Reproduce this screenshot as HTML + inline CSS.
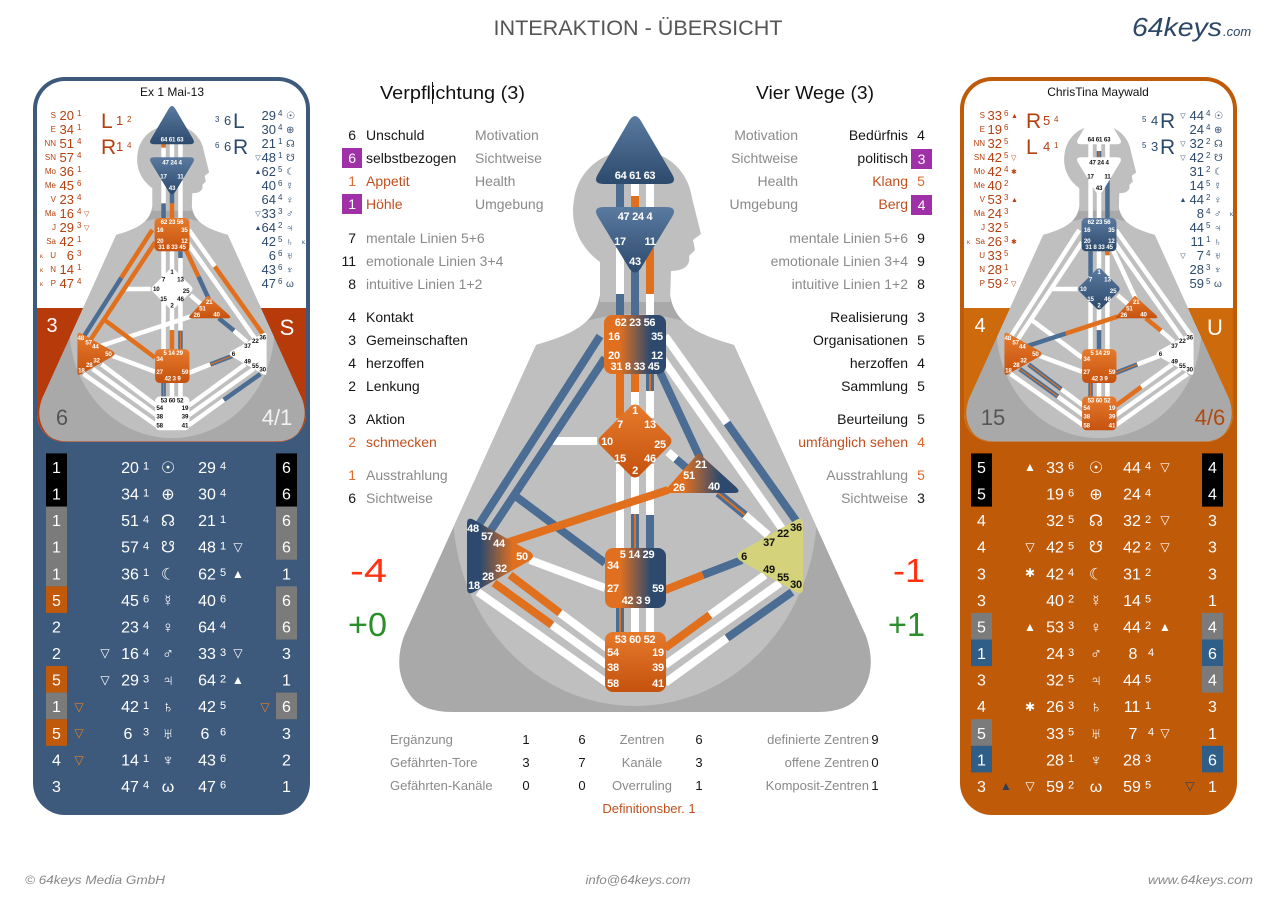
<!DOCTYPE html>
<html><head><meta charset="utf-8">
<style>
html,body{margin:0;padding:0;background:#fff;}
svg{display:block;}
text{font-family:"Liberation Sans","DejaVu Sans",sans-serif;}
.dj{font-family:"DejaVu Sans","Liberation Sans",sans-serif;}
.lb text{font-size:11px;font-weight:bold;text-anchor:middle;letter-spacing:-0.3px;}
.c14{font-size:14px;}
.g{fill:#8a8a8a;} .k{fill:#151515;} .o{fill:#c0501e;} .on{fill:#dc6a2a;} .w{fill:#fff;}
.m{text-anchor:middle;} .e{text-anchor:end;}
</style></head><body>
<svg width="1280" height="901" viewBox="0 0 1280 901" xmlns="http://www.w3.org/2000/svg">
<defs>
 <linearGradient id="gB" x1="0" y1="0" x2="0" y2="1"><stop offset="0" stop-color="#5a7aa0"/><stop offset="1" stop-color="#2c4a6c"/></linearGradient>
 <linearGradient id="gO" x1="0" y1="0" x2="0" y2="1"><stop offset="0" stop-color="#e67a2c"/><stop offset="1" stop-color="#c5520e"/></linearGradient>
 <linearGradient id="gOB" x1="0" y1="0" x2="1" y2="0"><stop offset="0.25" stop-color="#e07020"/><stop offset="0.75" stop-color="#2d4a6e"/></linearGradient>
 <linearGradient id="gBO" x1="0" y1="0" x2="1" y2="0"><stop offset="0.2" stop-color="#2d4a6e"/><stop offset="0.7" stop-color="#e07020"/></linearGradient>
 <path id="trapP" d="M600,295 C595,325 570,335 536,345 L404,636 Q392,670 410,695 Q422,712 452,712 L818,712 Q848,712 860,695 Q878,670 866,636 L734,345 C700,335 675,325 670,295 Z"/>
 <clipPath id="cTrap"><path d="M600,295 C595,325 570,335 536,345 L404,636 Q392,670 410,695 Q422,712 452,712 L818,712 Q848,712 860,695 Q878,670 866,636 L734,345 C700,335 675,325 670,295 Z"/></clipPath>
 <path id="headP" d="M600,302 L600,262 C578,246 570,222 574,200 C578,170 603,150 635,150 C666,150 688,170 692,198 L701,234 L693,240 L695,250 L689,256 C691,266 683,271 671,271 L670,302 Z"/>
 <clipPath id="cL"><rect x="37" y="81" width="269" height="361" rx="28"/></clipPath>
 <clipPath id="cR"><rect x="964" y="81" width="269" height="361" rx="28"/></clipPath>
 <path id="hd" d="M629,121 Q635,111 641,121 L672,174 Q678,184 666,184 L604,184 Q592,184 598,174 Z"/>
 <path id="aj" d="M604,207 L666,207 Q678,207 672,217 L641,268 Q635,277 629,268 L598,217 Q592,207 604,207 Z"/>
 <rect id="th" x="604" y="315" width="62" height="59" rx="8"/>
 <path id="gc" d="M629,408 Q635,401 641,408 L668,435 Q675,441 668,447 L641,474 Q635,481 629,474 L602,447 Q595,441 602,435 Z"/>
 <path id="eg" d="M695,457 Q699,450 703,457 L736,487 Q742,493 734,493 L670,493 Q662,493 668,487 Z"/>
 <path id="sp" d="M467,524 Q467,516 474,520 L529,551 Q537,556 529,561 L474,592 Q467,596 467,588 Z"/>
 <rect id="sc" x="605" y="548" width="61" height="60" rx="8"/>
 <rect id="rt" x="605" y="632" width="61" height="60" rx="8"/>
 <path id="so" d="M803,524 Q803,516 796,520 L741,551 Q733,556 741,561 L796,592 Q803,596 803,588 Z"/>
</defs>

<!-- Header -->
<text x="638" y="35" font-size="21" fill="#555" text-anchor="middle" textLength="289" lengthAdjust="spacingAndGlyphs">INTERAKTION - ÜBERSICHT</text>
<text x="1132" y="36" font-size="26" font-style="italic" fill="#2d4766" textLength="90" lengthAdjust="spacingAndGlyphs">64keys</text>
<text x="1223" y="36" font-size="13" font-style="italic" fill="#2d4766">.com</text>

<!-- ================= CENTER CHART ================= -->
<g>
 <use href="#trapP" fill="#a9a9a9"/>
 <ellipse cx="635" cy="510" rx="182" ry="196" fill="#bfbfbf" clip-path="url(#cTrap)"/>
 <use href="#headP" fill="#bfbfbf"/>
 <g fill="none" stroke-width="8">
  <path stroke="#fff" d="M635,183V196 M650,183V208 M620,248V294 M650,294V315 M635,392V405 M650,391V418 M620,464V548 M635,477V514 M650,464V515 M635,608V632 M650,608V632 M553,441H597 M530,560L605,588 M560,613L607,648 M552,625L607,665 M478,592L607,683 M710,615L765,575 M665,665L780,583 M665,683L727,638 M668,452L676,459 M745,515L768,535 M665,336L727,423 M662,358L783,530"/>
  <path stroke="#4c6d93" d="M620,183V208 M620,294V315 M635,270V315 M650,374V391 M635,514V548 M650,515V548 M620,608V632 M600,336L478,526 M605,358L491,530 M514,495L605,563 M703,575L742,560 M727,638L792,592 M660,372L700,458 M676,459L690,471 M718,493L745,515 M727,423L797,522"/>
  <path stroke="#e0701e" d="M635,196V208 M650,248V294 M620,374V418 M635,374V392 M500,545L668,490 M510,575L560,613 M494,583L552,625 M665,590L703,575 M665,648L710,615"/>
  <path stroke="#e0701e" stroke-width="2" d="M650,374V391 M635,514V548 M620,608V632 M718,493L745,515"/>
 </g>
 <use href="#hd" fill="url(#gB)"/>
 <use href="#aj" fill="url(#gB)"/>
 <use href="#th" fill="url(#gOB)"/>
 <use href="#gc" fill="url(#gO)"/>
 <use href="#eg" fill="url(#gOB)"/>
 <use href="#sp" fill="url(#gBO)"/>
 <use href="#sc" fill="url(#gOB)"/>
 <use href="#rt" fill="url(#gO)"/>
 <use href="#so" fill="#d4d27a"/>
 <g class="lb" fill="#fff">
  <text x="635" y="179">64 61 63</text>
  <text x="635" y="220">47 24 4</text><text x="620" y="245">17</text><text x="650" y="245">11</text><text x="635" y="265">43</text>
  <text x="635" y="326">62 23 56</text><text x="614" y="340">16</text><text x="657" y="340">35</text><text x="614" y="359">20</text><text x="657" y="359">12</text><text x="635" y="370">31 8 33 45</text>
  <text x="635" y="414">1</text><text x="620" y="428">7</text><text x="650" y="428">13</text><text x="607" y="445">10</text><text x="660" y="448">25</text><text x="620" y="462">15</text><text x="650" y="462">46</text><text x="635" y="474">2</text>
  <text x="701" y="468">21</text><text x="689" y="479">51</text><text x="679" y="491">26</text><text x="714" y="490">40</text>
  <text x="473" y="532">48</text><text x="487" y="540">57</text><text x="499" y="547">44</text><text x="522" y="560">50</text><text x="501" y="572">32</text><text x="488" y="580">28</text><text x="474" y="589">18</text>
  <text x="637" y="558">5 14 29</text><text x="613" y="569">34</text><text x="613" y="592">27</text><text x="658" y="592">59</text><text x="636" y="604">42 3 9</text>
  <text x="635" y="643">53 60 52</text><text x="613" y="656">54</text><text x="658" y="656">19</text><text x="613" y="671">38</text><text x="658" y="671">39</text><text x="613" y="687">58</text><text x="658" y="687">41</text>
 </g>
 <g class="lb" fill="#111">
  <text x="796" y="531">36</text><text x="783" y="537">22</text><text x="769" y="546">37</text><text x="744" y="560">6</text><text x="769" y="573">49</text><text x="783" y="581">55</text><text x="796" y="588">30</text>
 </g>
</g>

<!-- ================= CENTER TEXT ================= -->
<text x="380" y="99" font-size="18" fill="#111" textLength="145" lengthAdjust="spacingAndGlyphs">Verpflichtung (3)</text>
<line x1="432.5" y1="82" x2="432.5" y2="104" stroke="#111" stroke-width="1"/>
<text x="756" y="99" font-size="18" fill="#111" textLength="118" lengthAdjust="spacingAndGlyphs">Vier Wege (3)</text>

<rect x="342" y="148" width="20" height="20" fill="#a030a8"/>
<rect x="342" y="194" width="20" height="20" fill="#a030a8"/>
<rect x="911" y="149" width="21" height="20" fill="#a030a8"/>
<rect x="911" y="195" width="21" height="20" fill="#a030a8"/>

<g class="c14">
 <text x="356" y="140" class="e k">6</text><text x="366" y="140" class="k">Unschuld</text><text x="475" y="140" class="g">Motivation</text>
 <text x="356" y="163" class="e w">6</text><text x="366" y="163" class="k">selbstbezogen</text><text x="475" y="163" class="g">Sichtweise</text>
 <text x="356" y="186" class="e on">1</text><text x="366" y="186" class="o">Appetit</text><text x="475" y="186" class="g">Health</text>
 <text x="356" y="209" class="e w">1</text><text x="366" y="209" class="o">Höhle</text><text x="475" y="209" class="g">Umgebung</text>
 <text x="356" y="243" class="e k">7</text><text x="366" y="243" class="g">mentale Linien 5+6</text>
 <text x="356" y="266" class="e k">11</text><text x="366" y="266" class="g">emotionale Linien 3+4</text>
 <text x="356" y="289" class="e k">8</text><text x="366" y="289" class="g">intuitive Linien 1+2</text>
 <text x="356" y="322" class="e k">4</text><text x="366" y="322" class="k">Kontakt</text>
 <text x="356" y="345" class="e k">3</text><text x="366" y="345" class="k">Gemeinschaften</text>
 <text x="356" y="368" class="e k">4</text><text x="366" y="368" class="k">herzoffen</text>
 <text x="356" y="391" class="e k">2</text><text x="366" y="391" class="k">Lenkung</text>
 <text x="356" y="424" class="e k">3</text><text x="366" y="424" class="k">Aktion</text>
 <text x="356" y="447" class="e on">2</text><text x="366" y="447" class="o">schmecken</text>
 <text x="356" y="480" class="e on">1</text><text x="366" y="480" class="g">Ausstrahlung</text>
 <text x="356" y="503" class="e k">6</text><text x="366" y="503" class="g">Sichtweise</text>

 <text x="798" y="140" class="e g">Motivation</text><text x="908" y="140" class="e k">Bedürfnis</text><text x="921" y="140" class="m k">4</text>
 <text x="798" y="163" class="e g">Sichtweise</text><text x="908" y="163" class="e k">politisch</text><text x="921.5" y="164" class="m w">3</text>
 <text x="798" y="186" class="e g">Health</text><text x="908" y="186" class="e o">Klang</text><text x="921" y="186" class="m on">5</text>
 <text x="798" y="209" class="e g">Umgebung</text><text x="908" y="209" class="e o">Berg</text><text x="921.5" y="210" class="m w">4</text>
 <text x="908" y="243" class="e g">mentale Linien 5+6</text><text x="921" y="243" class="m k">9</text>
 <text x="908" y="266" class="e g">emotionale Linien 3+4</text><text x="921" y="266" class="m k">9</text>
 <text x="908" y="289" class="e g">intuitive Linien 1+2</text><text x="921" y="289" class="m k">8</text>
 <text x="908" y="322" class="e k">Realisierung</text><text x="921" y="322" class="m k">3</text>
 <text x="908" y="345" class="e k">Organisationen</text><text x="921" y="345" class="m k">5</text>
 <text x="908" y="368" class="e k">herzoffen</text><text x="921" y="368" class="m k">4</text>
 <text x="908" y="391" class="e k">Sammlung</text><text x="921" y="391" class="m k">5</text>
 <text x="908" y="424" class="e k">Beurteilung</text><text x="921" y="424" class="m k">5</text>
 <text x="908" y="447" class="e o">umfänglich sehen</text><text x="921" y="447" class="m on">4</text>
 <text x="908" y="480" class="e g">Ausstrahlung</text><text x="921" y="480" class="m on">5</text>
 <text x="908" y="503" class="e g">Sichtweise</text><text x="921" y="503" class="m k">3</text>
</g>

<text x="387" y="582" font-size="33" fill="#ff3311" text-anchor="end" textLength="37" lengthAdjust="spacingAndGlyphs">-4</text>
<text x="387" y="636" font-size="33" fill="#2a8f2a" text-anchor="end" textLength="39" lengthAdjust="spacingAndGlyphs">+0</text>
<text x="925" y="582" font-size="33" fill="#ff3311" text-anchor="end" textLength="32" lengthAdjust="spacingAndGlyphs">-1</text>
<text x="925" y="636" font-size="33" fill="#2a8f2a" text-anchor="end" textLength="37" lengthAdjust="spacingAndGlyphs">+1</text>

<g font-size="13">
 <text x="390" y="744" class="g">Ergänzung</text><text x="526" y="744" class="m k">1</text><text x="582" y="744" class="m k">6</text><text x="642" y="744" class="m g">Zentren</text><text x="699" y="744" class="m k">6</text><text x="869" y="744" class="e g">definierte Zentren</text><text x="875" y="744" class="m k">9</text>
 <text x="390" y="767" class="g">Gefährten-Tore</text><text x="526" y="767" class="m k">3</text><text x="582" y="767" class="m k">7</text><text x="642" y="767" class="m g">Kanäle</text><text x="699" y="767" class="m k">3</text><text x="869" y="767" class="e g">offene Zentren</text><text x="875" y="767" class="m k">0</text>
 <text x="390" y="790" class="g">Gefährten-Kanäle</text><text x="526" y="790" class="m k">0</text><text x="582" y="790" class="m k">0</text><text x="642" y="790" class="m g">Overruling</text><text x="699" y="790" class="m k">1</text><text x="869" y="790" class="e g">Komposit-Zentren</text><text x="875" y="790" class="m k">1</text>
 <text x="649" y="813" class="m o">Definitionsber. 1</text>
</g>

<!-- Footer -->
<g font-size="12" font-style="italic" fill="#888">
 <text x="25" y="884" textLength="140" lengthAdjust="spacingAndGlyphs">© 64keys Media GmbH</text>
 <text x="638" y="884" text-anchor="middle" textLength="105" lengthAdjust="spacingAndGlyphs">info@64keys.com</text>
 <text x="1253" y="884" text-anchor="end" textLength="105" lengthAdjust="spacingAndGlyphs">www.64keys.com</text>
</g>

<!-- ================= LEFT CARD ================= -->
<rect x="33" y="77" width="277" height="738" rx="32" fill="#3d5a7c"/>
<g clip-path="url(#cL)">
 <rect x="37" y="81" width="269" height="361" fill="#fff"/>
 <rect x="37" y="308" width="269" height="134" fill="#b73a0b"/>
 <g transform="translate(-185.5,40.7) scale(0.563)">
  <use href="#trapP" fill="#a9a9a9"/>
  <ellipse cx="635" cy="510" rx="182" ry="196" fill="#bfbfbf" clip-path="url(#cTrap)"/>
  <use href="#headP" fill="#bfbfbf"/>
  <g fill="none" stroke-width="8">
   <path stroke="#fff" d="M620,190V208 M635,183V208 M650,183V208 M620,248V289 M650,248V315 M620,374V418 M635,374V405 M650,386V418 M620,464V548 M635,477V514 M650,464V515 M635,608V632 M650,608V632 M553,441H597 M500,545L668,490 M530,560L605,588 M510,575L607,648 M494,583L607,665 M478,592L607,683 M665,590L703,575 M665,648L765,575 M665,665L780,583 M665,683L727,638 M668,452L690,471 M745,515L768,535 M665,336L711,401 M662,358L783,530"/>
   <path stroke="#4c6d93" d="M620,289V315 M635,270V289 M650,374V386 M650,515V548 M620,608V632 M545,421L478,526 M700,458L682,419 M718,493L745,515 M703,575L742,560 M727,638L792,592"/>
   <path stroke="#e0701e" d="M620,183V190 M635,289V315 M635,514V548 M600,336L545,421 M605,358L491,530 M514,495L605,563 M660,372L682,419 M711,401L797,522"/>
   <path stroke="#e0701e" stroke-width="2" d="M650,515V548 M620,608V632 M703,575L742,560"/>
  </g>
  <use href="#hd" fill="url(#gB)"/>
  <use href="#aj" fill="url(#gB)"/>
  <use href="#th" fill="url(#gO)"/>
  <use href="#gc" fill="#fff"/>
  <use href="#eg" fill="url(#gO)"/>
  <use href="#sp" fill="url(#gO)"/>
  <use href="#sc" fill="url(#gO)"/>
  <use href="#rt" fill="#fff"/>
  <use href="#so" fill="#fff"/>
  <g class="lb" fill="#fff">
   <text x="635" y="179">64 61 63</text>
   <text x="635" y="220">47 24 4</text><text x="620" y="245">17</text><text x="650" y="245">11</text><text x="635" y="265">43</text>
   <text x="635" y="326">62 23 56</text><text x="614" y="340">16</text><text x="657" y="340">35</text><text x="614" y="359">20</text><text x="657" y="359">12</text><text x="635" y="370">31 8 33 45</text>
   <text x="701" y="468">21</text><text x="689" y="479">51</text><text x="679" y="491">26</text><text x="714" y="490">40</text>
   <text x="473" y="532">48</text><text x="487" y="540">57</text><text x="499" y="547">44</text><text x="522" y="560">50</text><text x="501" y="572">32</text><text x="488" y="580">28</text><text x="474" y="589">18</text>
   <text x="637" y="558">5 14 29</text><text x="613" y="569">34</text><text x="613" y="592">27</text><text x="658" y="592">59</text><text x="636" y="604">42 3 9</text>
  </g>
  <g class="lb" fill="#111">
   <text x="635" y="414">1</text><text x="620" y="428">7</text><text x="650" y="428">13</text><text x="607" y="445">10</text><text x="660" y="448">25</text><text x="620" y="462">15</text><text x="650" y="462">46</text><text x="635" y="474">2</text>
   <text x="635" y="643">53 60 52</text><text x="613" y="656">54</text><text x="658" y="656">19</text><text x="613" y="671">38</text><text x="658" y="671">39</text><text x="613" y="687">58</text><text x="658" y="687">41</text>
   <text x="796" y="531">36</text><text x="783" y="537">22</text><text x="769" y="546">37</text><text x="744" y="560">6</text><text x="769" y="573">49</text><text x="783" y="581">55</text><text x="796" y="588">30</text>
  </g>
 </g>
</g>
<text x="172" y="96" font-size="12" fill="#111" text-anchor="middle">Ex 1 Mai-13</text>
<text x="52" y="332" font-size="20" fill="#fff" text-anchor="middle">3</text>
<text x="287" y="335" font-size="22" fill="#fff" text-anchor="middle">S</text>
<text x="62" y="425" font-size="22" fill="#555" text-anchor="middle">6</text>
<text x="277" y="425" font-size="22" fill="#f2f2f2" text-anchor="middle">4/1</text>

<!-- left card planet lists -->
<g fill="#b5400f">
 <text x="101" y="128" font-size="21">L</text><text x="116" y="125" font-size="13">1</text><text x="127" y="122" font-size="8">2</text>
 <text x="101" y="154" font-size="21">R</text><text x="116" y="151" font-size="13">1</text><text x="127" y="148" font-size="8">4</text>
 <g font-size="8" text-anchor="end">
  <text x="56" y="118">S</text><text x="56" y="132">E</text><text x="56" y="146">NN</text><text x="56" y="160">SN</text><text x="56" y="174">Mo</text><text x="56" y="188">Me</text><text x="56" y="202">V</text><text x="56" y="216">Ma</text><text x="56" y="230">J</text><text x="56" y="244">Sa</text><text x="56" y="258">U</text><text x="56" y="272">N</text><text x="56" y="286">P</text>
 </g>
 <g font-size="13" text-anchor="end">
  <text x="74" y="120">20</text><text x="74" y="134">34</text><text x="74" y="148">51</text><text x="74" y="162">57</text><text x="74" y="176">36</text><text x="74" y="190">45</text><text x="74" y="204">23</text><text x="74" y="218">16</text><text x="74" y="232">29</text><text x="74" y="246">42</text><text x="74" y="260">6</text><text x="74" y="274">14</text><text x="74" y="288">47</text>
 </g>
 <g font-size="8">
  <text x="77" y="116">1</text><text x="77" y="130">1</text><text x="77" y="144">4</text><text x="77" y="158">4</text><text x="77" y="172">1</text><text x="77" y="186">6</text><text x="77" y="200">4</text><text x="77" y="214">4</text><text x="77" y="228">3</text><text x="77" y="242">1</text><text x="77" y="256">3</text><text x="77" y="270">1</text><text x="77" y="284">4</text>
  <text x="84" y="216" class="dj" font-size="7">▽</text><text x="84" y="230" class="dj" font-size="7">▽</text>
  <text x="40" y="258" font-size="6">κ</text><text x="40" y="272" font-size="6">κ</text><text x="40" y="286" font-size="6">κ</text>
 </g>
</g>
<g fill="#2c4a6c">
 <text x="215" y="122" font-size="8">3</text><text x="224" y="125" font-size="13">6</text><text x="233" y="128" font-size="21">L</text>
 <text x="215" y="148" font-size="8">6</text><text x="224" y="151" font-size="13">6</text><text x="233" y="154" font-size="21">R</text>
 <g font-size="13" text-anchor="end">
  <text x="276" y="120">29</text><text x="276" y="134">30</text><text x="276" y="148">21</text><text x="276" y="162">48</text><text x="276" y="176">62</text><text x="276" y="190">40</text><text x="276" y="204">64</text><text x="276" y="218">33</text><text x="276" y="232">64</text><text x="276" y="246">42</text><text x="276" y="260">6</text><text x="276" y="274">43</text><text x="276" y="288">47</text>
 </g>
 <g font-size="8">
  <text x="278" y="116">4</text><text x="278" y="130">4</text><text x="278" y="144">1</text><text x="278" y="158">1</text><text x="278" y="172">5</text><text x="278" y="186">6</text><text x="278" y="200">4</text><text x="278" y="214">3</text><text x="278" y="228">2</text><text x="278" y="242">5</text><text x="278" y="256">6</text><text x="278" y="270">6</text><text x="278" y="284">6</text>
  <text x="302" y="244" font-size="6">κ</text>
 </g>
 <g class="dj" font-size="7" text-anchor="middle">
  <text x="258" y="160">▽</text><text x="258" y="174">▲</text><text x="258" y="216">▽</text><text x="258" y="230">▲</text>
 </g>
 <g class="dj" font-size="10">
  <text x="286" y="119">☉</text><text x="286" y="133">⊕</text><text x="286" y="147">☊</text><text x="286" y="161">☋</text><text x="286" y="175">☾</text><text x="286" y="189">☿</text><text x="286" y="203">♀</text><text x="286" y="217">♂</text><text x="286" y="231">♃</text><text x="286" y="245">♄</text><text x="286" y="259">♅</text><text x="286" y="273">♆</text><text x="286" y="287">ω</text>
 </g>
</g>

<!-- left card table -->
<g>
 <rect x="46" y="453.4" width="21" height="53.2" fill="#000"/>
 <rect x="46" y="506.6" width="21" height="79.7" fill="#7b7b7b"/>
 <rect x="46" y="586.3" width="21" height="26.6" fill="#c05a0a"/>
 <rect x="46" y="666" width="21" height="26.6" fill="#c05a0a"/>
 <rect x="46" y="692.6" width="21" height="26.6" fill="#7b7b7b"/>
 <rect x="46" y="719.2" width="21" height="26.6" fill="#c05a0a"/>
 <rect x="276" y="453.4" width="21" height="53.2" fill="#000"/>
 <rect x="276" y="506.6" width="21" height="53.1" fill="#7b7b7b"/>
 <rect x="276" y="586.3" width="21" height="53.2" fill="#7b7b7b"/>
 <rect x="276" y="692.6" width="21" height="26.6" fill="#7b7b7b"/>
</g>
<g class="dj" font-size="16" fill="#fff" text-anchor="middle">
 <text x="56.5" y="473">1</text><text x="56.5" y="499.6">1</text><text x="56.5" y="526.2">1</text><text x="56.5" y="552.7">1</text><text x="56.5" y="579.3">1</text><text x="56.5" y="605.9">5</text><text x="56.5" y="632.5">2</text><text x="56.5" y="659.1">2</text><text x="56.5" y="685.6">5</text><text x="56.5" y="712.2">1</text><text x="56.5" y="738.8">5</text><text x="56.5" y="765.4">4</text><text x="56.5" y="792">3</text>
 <text x="286.5" y="473">6</text><text x="286.5" y="499.6">6</text><text x="286.5" y="526.2">6</text><text x="286.5" y="552.7">6</text><text x="286.5" y="579.3">1</text><text x="286.5" y="605.9">6</text><text x="286.5" y="632.5">6</text><text x="286.5" y="659.1">3</text><text x="286.5" y="685.6">1</text><text x="286.5" y="712.2">6</text><text x="286.5" y="738.8">3</text><text x="286.5" y="765.4">2</text><text x="286.5" y="792">1</text>
 <text x="130" y="473">20</text><text x="130" y="499.6">34</text><text x="130" y="526.2">51</text><text x="130" y="552.7">57</text><text x="130" y="579.3">36</text><text x="130" y="605.9">45</text><text x="130" y="632.5">23</text><text x="130" y="659.1">16</text><text x="130" y="685.6">29</text><text x="130" y="712.2">42</text><text x="128" y="738.8">6</text><text x="130" y="765.4">14</text><text x="130" y="792">47</text>
 <text x="207" y="473">29</text><text x="207" y="499.6">30</text><text x="207" y="526.2">21</text><text x="207" y="552.7">48</text><text x="207" y="579.3">62</text><text x="207" y="605.9">40</text><text x="207" y="632.5">64</text><text x="207" y="659.1">33</text><text x="207" y="685.6">64</text><text x="207" y="712.2">42</text><text x="205" y="738.8">6</text><text x="207" y="765.4">43</text><text x="207" y="792">47</text>
 <text x="168" y="473">☉</text><text x="168" y="499.6">⊕</text><text x="168" y="526.2">☊</text><text x="168" y="552.7">☋</text><text x="168" y="579.3">☾</text><text x="168" y="605.9">☿</text><text x="168" y="632.5">♀</text><text x="168" y="659.1">♂</text><text x="168" y="685.6">♃</text><text x="168" y="712.2">♄</text><text x="168" y="738.8">♅</text><text x="168" y="765.4">♆</text><text x="168" y="792">ω</text>
</g>
<g class="dj" font-size="11" fill="#fff">
 <text x="143" y="469.7">1</text><text x="143" y="496.3">1</text><text x="143" y="522.9">4</text><text x="143" y="549.4">4</text><text x="143" y="576">1</text><text x="143" y="602.6">6</text><text x="143" y="629.2">4</text><text x="143" y="655.8">4</text><text x="143" y="682.3">3</text><text x="143" y="708.9">1</text><text x="143" y="735.5">3</text><text x="143" y="762.1">1</text><text x="143" y="788.7">4</text>
 <text x="220" y="469.7">4</text><text x="220" y="496.3">4</text><text x="220" y="522.9">1</text><text x="220" y="549.4">1</text><text x="220" y="576">5</text><text x="220" y="602.6">6</text><text x="220" y="629.2">4</text><text x="220" y="655.8">3</text><text x="220" y="682.3">2</text><text x="220" y="708.9">5</text><text x="220" y="735.5">6</text><text x="220" y="762.1">6</text><text x="220" y="788.7">6</text>
</g>
<g class="dj" font-size="12" text-anchor="middle">
 <text x="238" y="551" fill="#fff">▽</text><text x="238" y="578" fill="#fff">▲</text>
 <text x="105" y="657" fill="#fff">▽</text><text x="238" y="657" fill="#fff">▽</text>
 <text x="105" y="684" fill="#fff">▽</text><text x="238" y="684" fill="#fff">▲</text>
 <text x="79" y="711" fill="#e8801e">▽</text><text x="265" y="711" fill="#e8801e">▽</text>
 <text x="79" y="737" fill="#e8801e">▽</text>
 <text x="79" y="764" fill="#e8801e">▽</text>
</g>

<!-- ================= RIGHT CARD ================= -->
<rect x="960" y="77" width="277" height="738" rx="32" fill="#bf5a08"/>
<g clip-path="url(#cR)">
 <rect x="964" y="81" width="269" height="361" fill="#fff"/>
 <rect x="964" y="308" width="269" height="134" fill="#cc6a0c"/>
 <g transform="translate(741.5,40.7) scale(0.563)">
  <use href="#trapP" fill="#a9a9a9"/>
  <ellipse cx="635" cy="510" rx="182" ry="196" fill="#bfbfbf" clip-path="url(#cTrap)"/>
  <use href="#headP" fill="#bfbfbf"/>
  <g fill="none" stroke-width="8">
   <path stroke="#fff" d="M620,183V208 M635,183V196 M650,183V208 M620,248V315 M635,270V315 M635,374V405 M650,381V418 M620,464V548 M635,477V514 M650,464V548 M635,608V632 M650,608V632 M600,336L478,526 M605,358L491,530 M514,495L605,563 M553,441H597 M530,560L605,588 M568,619L607,648 M562,632L607,665 M478,592L607,683 M703,575L742,560 M710,615L765,575 M665,665L780,583 M665,683L792,592 M660,372L700,458 M668,452L690,471 M745,515L768,535 M665,336L797,522 M662,358L783,530"/>
   <path stroke="#4c6d93" d="M635,196V208 M650,248V315 M620,374V418 M635,514V548 M620,608V632 M500,545L576,520 M510,575L568,619 M494,583L562,632 M665,590L703,575"/>
   <path stroke="#e0701e" d="M650,374V381 M576,520L668,490 M665,648L710,615 M718,493L745,515"/>
   <path stroke="#e0701e" stroke-width="2" d="M635,196V208 M620,608V632 M510,575L568,619 M494,583L562,632 M665,590L703,575"/>
  </g>
  <use href="#hd" fill="#fff"/>
  <use href="#aj" fill="#fff"/>
  <use href="#th" fill="url(#gB)"/>
  <use href="#gc" fill="url(#gB)"/>
  <use href="#eg" fill="url(#gO)"/>
  <use href="#sp" fill="url(#gO)"/>
  <use href="#sc" fill="url(#gO)"/>
  <use href="#rt" fill="url(#gO)"/>
  <use href="#so" fill="#fff"/>
  <g class="lb" fill="#111">
   <text x="635" y="179">64 61 63</text>
   <text x="635" y="220">47 24 4</text><text x="620" y="245">17</text><text x="650" y="245">11</text><text x="635" y="265">43</text>
   <text x="796" y="531">36</text><text x="783" y="537">22</text><text x="769" y="546">37</text><text x="744" y="560">6</text><text x="769" y="573">49</text><text x="783" y="581">55</text><text x="796" y="588">30</text>
  </g>
  <g class="lb" fill="#fff">
   <text x="635" y="326">62 23 56</text><text x="614" y="340">16</text><text x="657" y="340">35</text><text x="614" y="359">20</text><text x="657" y="359">12</text><text x="635" y="370">31 8 33 45</text>
   <text x="635" y="414">1</text><text x="620" y="428">7</text><text x="650" y="428">13</text><text x="607" y="445">10</text><text x="660" y="448">25</text><text x="620" y="462">15</text><text x="650" y="462">46</text><text x="635" y="474">2</text>
   <text x="701" y="468">21</text><text x="689" y="479">51</text><text x="679" y="491">26</text><text x="714" y="490">40</text>
   <text x="473" y="532">48</text><text x="487" y="540">57</text><text x="499" y="547">44</text><text x="522" y="560">50</text><text x="501" y="572">32</text><text x="488" y="580">28</text><text x="474" y="589">18</text>
   <text x="637" y="558">5 14 29</text><text x="613" y="569">34</text><text x="613" y="592">27</text><text x="658" y="592">59</text><text x="636" y="604">42 3 9</text>
   <text x="635" y="643">53 60 52</text><text x="613" y="656">54</text><text x="658" y="656">19</text><text x="613" y="671">38</text><text x="658" y="671">39</text><text x="613" y="687">58</text><text x="658" y="687">41</text>
  </g>
 </g>
</g>
<text x="1098" y="96" font-size="12" fill="#111" text-anchor="middle">ChrisTina Maywald</text>
<text x="980" y="332" font-size="20" fill="#fff" text-anchor="middle">4</text>
<text x="1215" y="335" font-size="22" fill="#fff" text-anchor="middle">U</text>
<text x="993" y="425" font-size="22" fill="#555" text-anchor="middle">15</text>
<text x="1210" y="425" font-size="22" fill="#b04a10" text-anchor="middle">4/6</text>

<!-- right card planet lists -->
<g fill="#b5400f">
 <text x="1026" y="128" font-size="21">R</text><text x="1043" y="125" font-size="13">5</text><text x="1054" y="122" font-size="8">4</text>
 <text x="1026" y="154" font-size="21">L</text><text x="1043" y="151" font-size="13">4</text><text x="1054" y="148" font-size="8">1</text>
 <g font-size="8" text-anchor="end">
  <text x="985" y="118">S</text><text x="985" y="132">E</text><text x="985" y="146">NN</text><text x="985" y="160">SN</text><text x="985" y="174">Mo</text><text x="985" y="188">Me</text><text x="985" y="202">V</text><text x="985" y="216">Ma</text><text x="985" y="230">J</text><text x="985" y="244">Sa</text><text x="985" y="258">U</text><text x="985" y="272">N</text><text x="985" y="286">P</text>
 </g>
 <g font-size="13" text-anchor="end">
  <text x="1002" y="120">33</text><text x="1002" y="134">19</text><text x="1002" y="148">32</text><text x="1002" y="162">42</text><text x="1002" y="176">42</text><text x="1002" y="190">40</text><text x="1002" y="204">53</text><text x="1002" y="218">24</text><text x="1002" y="232">32</text><text x="1002" y="246">26</text><text x="1002" y="260">33</text><text x="1002" y="274">28</text><text x="1002" y="288">59</text>
 </g>
 <g font-size="8">
  <text x="1004" y="116">6</text><text x="1004" y="130">6</text><text x="1004" y="144">5</text><text x="1004" y="158">5</text><text x="1004" y="172">4</text><text x="1004" y="186">2</text><text x="1004" y="200">3</text><text x="1004" y="214">3</text><text x="1004" y="228">5</text><text x="1004" y="242">3</text><text x="1004" y="256">5</text><text x="1004" y="270">1</text><text x="1004" y="284">2</text>
  <text x="967" y="244" font-size="6">κ</text>
 </g>
 <g class="dj" font-size="7">
  <text x="1011" y="118">▲</text><text x="1011" y="160">▽</text><text x="1011" y="174">✱</text><text x="1011" y="202">▲</text><text x="1011" y="244">✱</text><text x="1011" y="286">▽</text>
 </g>
</g>
<g fill="#2c4a6c">
 <text x="1142" y="122" font-size="8">5</text><text x="1151" y="125" font-size="13">4</text><text x="1160" y="128" font-size="21">R</text>
 <text x="1142" y="148" font-size="8">5</text><text x="1151" y="151" font-size="13">3</text><text x="1160" y="154" font-size="21">R</text>
 <g font-size="13" text-anchor="end">
  <text x="1204" y="120">44</text><text x="1204" y="134">24</text><text x="1204" y="148">32</text><text x="1204" y="162">42</text><text x="1204" y="176">31</text><text x="1204" y="190">14</text><text x="1204" y="204">44</text><text x="1204" y="218">8</text><text x="1204" y="232">44</text><text x="1204" y="246">11</text><text x="1204" y="260">7</text><text x="1204" y="274">28</text><text x="1204" y="288">59</text>
 </g>
 <g font-size="8">
  <text x="1206" y="116">4</text><text x="1206" y="130">4</text><text x="1206" y="144">2</text><text x="1206" y="158">2</text><text x="1206" y="172">2</text><text x="1206" y="186">5</text><text x="1206" y="200">2</text><text x="1206" y="214">4</text><text x="1206" y="228">5</text><text x="1206" y="242">1</text><text x="1206" y="256">4</text><text x="1206" y="270">3</text><text x="1206" y="284">5</text>
  <text x="1230" y="216" font-size="6">κ</text>
 </g>
 <g class="dj" font-size="7" text-anchor="middle">
  <text x="1183" y="118">▽</text><text x="1183" y="146">▽</text><text x="1183" y="160">▽</text><text x="1183" y="202">▲</text><text x="1183" y="258">▽</text>
 </g>
 <g class="dj" font-size="10">
  <text x="1214" y="119">☉</text><text x="1214" y="133">⊕</text><text x="1214" y="147">☊</text><text x="1214" y="161">☋</text><text x="1214" y="175">☾</text><text x="1214" y="189">☿</text><text x="1214" y="203">♀</text><text x="1214" y="217">♂</text><text x="1214" y="231">♃</text><text x="1214" y="245">♄</text><text x="1214" y="259">♅</text><text x="1214" y="273">♆</text><text x="1214" y="287">ω</text>
 </g>
</g>

<!-- right card table -->
<g>
 <rect x="971" y="453.4" width="21" height="53.2" fill="#000"/>
 <rect x="971" y="612.9" width="21" height="26.6" fill="#7b7b7b"/>
 <rect x="971" y="639.5" width="21" height="26.6" fill="#2f5f88"/>
 <rect x="971" y="719.2" width="21" height="26.6" fill="#7b7b7b"/>
 <rect x="971" y="745.8" width="21" height="26.6" fill="#2f5f88"/>
 <rect x="1202" y="453.4" width="21" height="53.2" fill="#000"/>
 <rect x="1202" y="612.9" width="21" height="26.6" fill="#7b7b7b"/>
 <rect x="1202" y="639.5" width="21" height="26.6" fill="#2f5f88"/>
 <rect x="1202" y="666" width="21" height="26.6" fill="#7b7b7b"/>
 <rect x="1202" y="745.8" width="21" height="26.6" fill="#2f5f88"/>
</g>
<g class="dj" font-size="16" fill="#fff" text-anchor="middle">
 <text x="981.5" y="473">5</text><text x="981.5" y="499.6">5</text><text x="981.5" y="526.2">4</text><text x="981.5" y="552.7">4</text><text x="981.5" y="579.3">3</text><text x="981.5" y="605.9">3</text><text x="981.5" y="632.5">5</text><text x="981.5" y="659.1">1</text><text x="981.5" y="685.6">3</text><text x="981.5" y="712.2">4</text><text x="981.5" y="738.8">5</text><text x="981.5" y="765.4">1</text><text x="981.5" y="792">3</text>
 <text x="1212.5" y="473">4</text><text x="1212.5" y="499.6">4</text><text x="1212.5" y="526.2">3</text><text x="1212.5" y="552.7">3</text><text x="1212.5" y="579.3">3</text><text x="1212.5" y="605.9">1</text><text x="1212.5" y="632.5">4</text><text x="1212.5" y="659.1">6</text><text x="1212.5" y="685.6">4</text><text x="1212.5" y="712.2">3</text><text x="1212.5" y="738.8">1</text><text x="1212.5" y="765.4">6</text><text x="1212.5" y="792">1</text>
 <text x="1055" y="473">33</text><text x="1055" y="499.6">19</text><text x="1055" y="526.2">32</text><text x="1055" y="552.7">42</text><text x="1055" y="579.3">42</text><text x="1055" y="605.9">40</text><text x="1055" y="632.5">53</text><text x="1055" y="659.1">24</text><text x="1055" y="685.6">32</text><text x="1055" y="712.2">26</text><text x="1055" y="738.8">33</text><text x="1055" y="765.4">28</text><text x="1055" y="792">59</text>
 <text x="1132" y="473">44</text><text x="1132" y="499.6">24</text><text x="1132" y="526.2">32</text><text x="1132" y="552.7">42</text><text x="1132" y="579.3">31</text><text x="1132" y="605.9">14</text><text x="1132" y="632.5">44</text><text x="1133" y="659.1">8</text><text x="1132" y="685.6">44</text><text x="1132" y="712.2">11</text><text x="1133" y="738.8">7</text><text x="1132" y="765.4">28</text><text x="1132" y="792">59</text>
 <text x="1096" y="473">☉</text><text x="1096" y="499.6">⊕</text><text x="1096" y="526.2">☊</text><text x="1096" y="552.7">☋</text><text x="1096" y="579.3">☾</text><text x="1096" y="605.9">☿</text><text x="1096" y="632.5">♀</text><text x="1096" y="659.1">♂</text><text x="1096" y="685.6">♃</text><text x="1096" y="712.2">♄</text><text x="1096" y="738.8">♅</text><text x="1096" y="765.4">♆</text><text x="1096" y="792">ω</text>
</g>
<g class="dj" font-size="11" fill="#fff">
 <text x="1068" y="469.7">6</text><text x="1068" y="496.3">6</text><text x="1068" y="522.9">5</text><text x="1068" y="549.4">5</text><text x="1068" y="576">4</text><text x="1068" y="602.6">2</text><text x="1068" y="629.2">3</text><text x="1068" y="655.8">3</text><text x="1068" y="682.3">5</text><text x="1068" y="708.9">3</text><text x="1068" y="735.5">5</text><text x="1068" y="762.1">1</text><text x="1068" y="788.7">2</text>
 <text x="1145" y="469.7">4</text><text x="1145" y="496.3">4</text><text x="1145" y="522.9">2</text><text x="1145" y="549.4">2</text><text x="1145" y="576">2</text><text x="1145" y="602.6">5</text><text x="1145" y="629.2">2</text><text x="1148" y="655.8">4</text><text x="1145" y="682.3">5</text><text x="1145" y="708.9">1</text><text x="1148" y="735.5">4</text><text x="1145" y="762.1">3</text><text x="1145" y="788.7">5</text>
</g>
<g class="dj" font-size="12" text-anchor="middle" fill="#fff">
 <text x="1030" y="471">▲</text><text x="1165" y="471">▽</text>
 <text x="1165" y="524">▽</text>
 <text x="1030" y="551">▽</text><text x="1165" y="551">▽</text>
 <text x="1030" y="577">✱</text>
 <text x="1030" y="631">▲</text><text x="1165" y="631">▲</text>
 <text x="1030" y="711">✱</text>
 <text x="1165" y="737">▽</text>
 <text x="1030" y="790">▽</text>
 <text x="1006" y="790" fill="#2c3e5c">▲</text><text x="1190" y="790" fill="#2c3e5c">▽</text>
</g>
</svg>
</body></html>
